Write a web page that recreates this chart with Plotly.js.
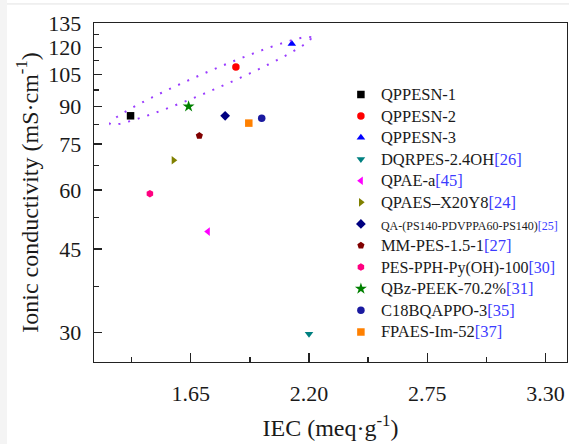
<!DOCTYPE html>
<html><head><meta charset="utf-8">
<script src="https://cdn.plot.ly/plotly-3.0.1.min.js"></script>
<style>html,body{margin:0;padding:0;background:#fff}</style>
</head><body><div id="chart" style="width:569px;height:444px"></div>
<script>
const names = ['QPPESN-1', 'QPPESN-2', 'QPPESN-3', 'DQRPES-2.4OH', 'QPAE-a', 'QPAES\u2013X20Y8',
  'QA-(PS140-PDVPPA60-PS140)', 'MM-PES-1.5-1', 'PES-PPH-Py(OH)-100', 'QBz-PEEK-70.2%', 'C18BQAPPO-3', 'FPAES-Im-52'];
const refs = ['', '', '', '[26]', '[45]', '[24]', '[25]', '[27]', '[30]', '[31]', '[35]', '[37]'];
const iec = [1.37, 1.86, 2.12, 2.20, 1.73, 1.57, 1.81, 1.69, 1.46, 1.64, 1.98, 1.92];
const conductivity = [86, 109, 122, 29.8, 49, 69.3, 86, 78.1, 58.9, 90, 85, 83];
const symbols = ['square', 'circle', 'triangle-up', 'triangle-down', 'triangle-left', 'triangle-right',
  'diamond', 'pentagon', 'hexagon', 'star', 'circle', 'square'];
const colors = ['#000000', '#ff0000', '#0000ff', '#008080', '#ff00ff', '#808000',
  '#000080', '#800000', '#ff0080', '#008000', '#1a1aa0', '#ff8000'];
const textSizes = [16.5, 16.5, 16.5, 16.5, 16.5, 16.5, 12, 16.5, 16, 16.5, 16.5, 16.5];

const xTickVals = [1.65, 2.2, 2.75, 3.3];
const xTickText = ['1.65', '2.20', '2.75', '3.30'];
const xMinorVals = [1.375, 1.925, 2.475, 3.025];
const yTickVals = [30, 45, 60, 75, 90, 105, 120, 135];
const yTickText = ['30', '45', '60', '75', '90', '105', '120', '135'];
const yMinorVals = [37.5, 52.5, 67.5, 82.5, 97.5, 112.5, 127.5];

const traces = names.map((n, i) => ({
  type: 'scatter', mode: 'markers',
  x: [iec[i]], y: [conductivity[i]],
  name: '<span style="font-size:' + textSizes[i] + 'px">' + n +
        (refs[i] ? '<span style="color:#3b3bff">' + refs[i] + '</span>' : '') + '</span>',
  marker: {symbol: symbols[i], color: colors[i], size: (symbols[i] === 'star' ? 9 : 7.5),
           line: {width: 0}}
}));

// decorative dotted ellipse (pixel geometry -> paper coords)
const L = 94, T = 23.3, W = 473, H = 338.4;
const cx = 210.5, cy = 81, a = 109.3, b = 9.3, ang = 23.2 * Math.PI / 180;
let path = '';
for (let k = 0; k <= 120; k++) {
  const t = 2 * Math.PI * k / 120;
  const u = a * Math.cos(t), v = b * Math.sin(t);
  const px = cx + u * Math.cos(ang) - v * Math.sin(ang);
  const py = cy - (u * Math.sin(ang) + v * Math.cos(ang));
  const xp = (px - L) / W, yp = (T + H - py) / H;
  path += (k === 0 ? 'M' : 'L') + xp.toFixed(5) + ',' + yp.toFixed(5);
}
path += 'Z';

const font = 'Liberation Serif, Times New Roman, serif';
const layout = {
  width: 569, height: 444,
  margin: {l: 94, r: 2, t: 23.3, b: 82.3},
  paper_bgcolor: '#ffffff', plot_bgcolor: '#ffffff',
  font: {family: font, color: '#1a1a1a'},
  showlegend: true,
  legend: {x: 0.522, y: 0.836, xanchor: 'left', yanchor: 'top', bgcolor: 'rgba(0,0,0,0)',
           font: {family: font, size: 14.3, color: '#1a1a1a'}, borderwidth: 0},
  xaxis: {
    range: [1.2, 3.4], tickmode: 'array', tickvals: xTickVals, ticktext: xTickText,
    ticks: 'inside', ticklen: 9, tickwidth: 1.3, tickcolor: '#222',
    minor: {tickmode: 'array', tickvals: xMinorVals, ticks: 'inside', ticklen: 5, tickwidth: 1.3, tickcolor: '#222'},
    showline: true, linecolor: '#222', linewidth: 1.4, mirror: true,
    showgrid: false, zeroline: false,
    tickfont: {family: font, size: 22, color: '#1a1a1a'}, ticklabelstandoff: 11,
    title: {text: 'IEC (meq\u00b7g<sup>-1</sup>)', font: {family: font, size: 24, color: '#1a1a1a'}, standoff: 14}
  },
  yaxis: {
    type: 'log', range: [Math.log10(26), Math.log10(135)],
    tickmode: 'array', tickvals: yTickVals, ticktext: yTickText,
    ticks: 'inside', ticklen: 8, tickwidth: 1.3, tickcolor: '#222',
    minor: {tickmode: 'array', tickvals: yMinorVals, ticks: 'inside', ticklen: 5, tickwidth: 1.3, tickcolor: '#222'},
    showline: true, linecolor: '#222', linewidth: 1.4, mirror: true,
    showgrid: false, zeroline: false,
    tickfont: {family: font, size: 22, color: '#1a1a1a'}, ticklabelstandoff: 7,
    title: {text: 'Ionic conductivity (mS\u00b7cm<sup>-1</sup>)', font: {family: font, size: 24, color: '#1a1a1a'}, standoff: 3}
  },
  shapes: [
    {type: 'path', xref: 'paper', yref: 'paper', path: path,
     line: {color: '#9a3cff', width: 2, dash: '2px,8px'}, fillcolor: 'rgba(0,0,0,0)'},
    {type: 'rect', xref: 'paper', yref: 'paper', layer: 'below',
     x0: -L / W, x1: (7 - L) / W, y0: -1, y1: 2, line: {width: 0}, fillcolor: '#f4f4f4'},
    {type: 'line', xref: 'paper', yref: 'paper', layer: 'below',
     x0: (7 - L) / W, x1: (569 - L) / W, y0: (T + H - 4.3) / H, y1: (T + H - 4.3) / H,
     line: {color: '#e2e2e2', width: 1}}
  ]
};

Plotly.newPlot('chart', traces, layout, {displayModeBar: false, staticPlot: true});
</script></body></html>
